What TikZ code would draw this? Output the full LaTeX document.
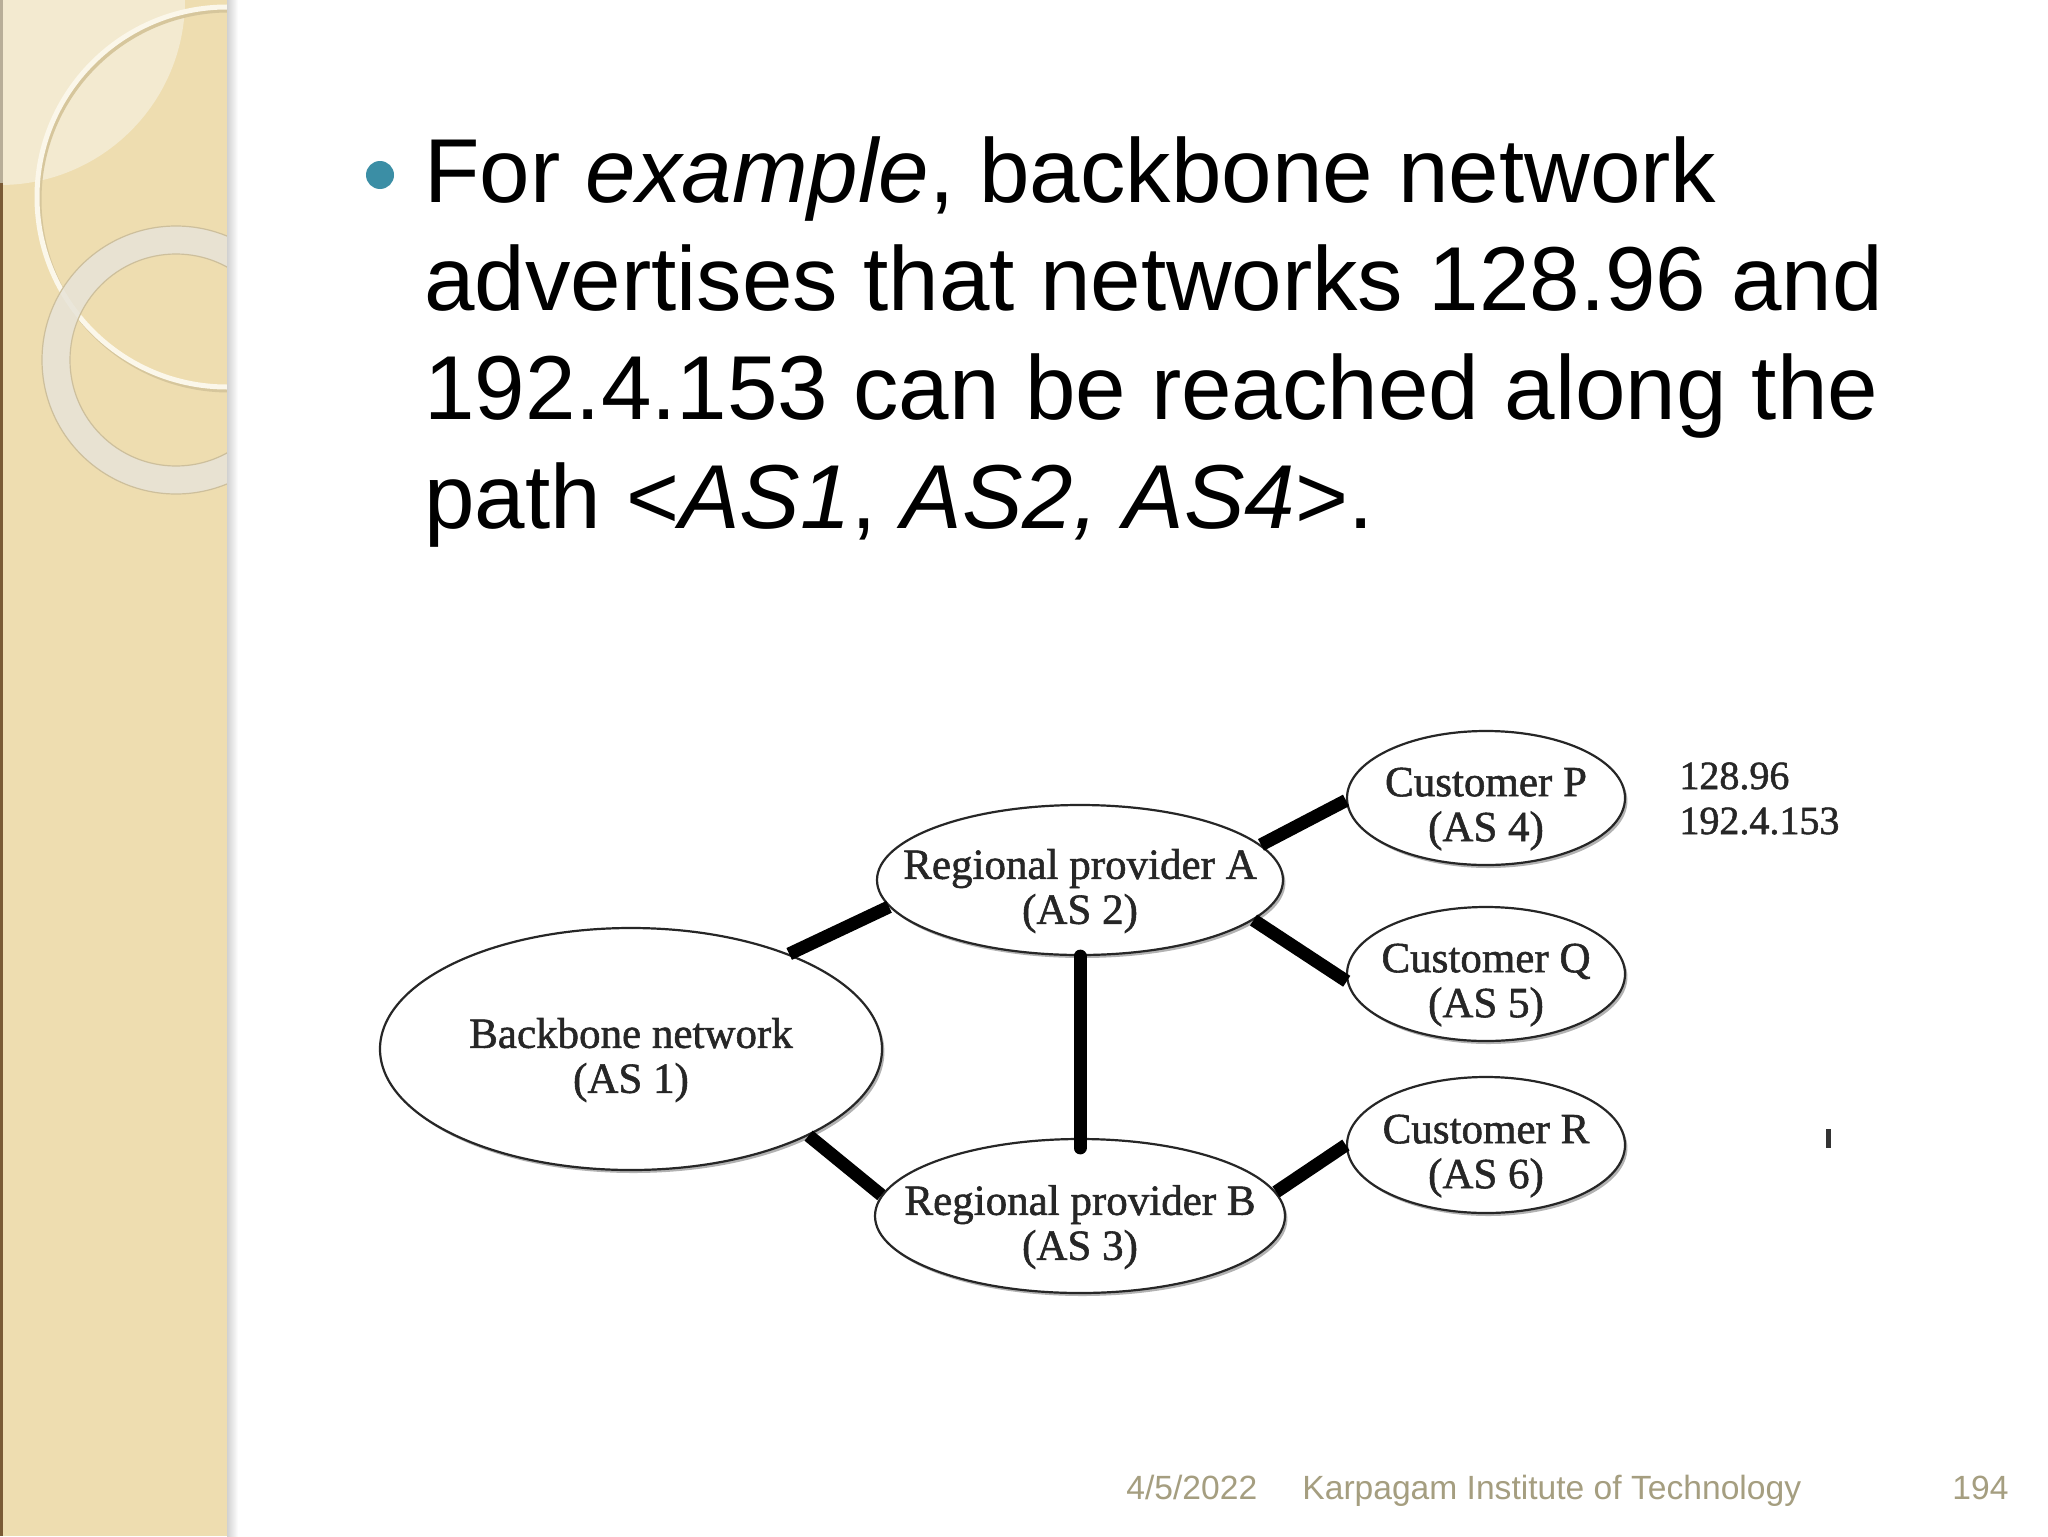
\documentclass[tikz,border=0pt]{standalone}
\usepackage{fontspec}
\setmainfont{Liberation Serif}
\newfontfamily\diagf[FakeBold=1.3]{Liberation Serif}
\newfontfamily\arialf{Liberation Sans}
\usetikzlibrary{shapes.geometric,shadows}
\definecolor{side}{HTML}{EEDDB0}
\definecolor{sidelight}{HTML}{F3EAD0}
\definecolor{brownedge}{HTML}{7A5A35}
\definecolor{greyedge}{HTML}{B8AE98}
\definecolor{ringc}{HTML}{FBF7EA}
\definecolor{ringsh}{HTML}{D6C69C}
\definecolor{ringthick}{HTML}{E8E4D8}
\definecolor{ringedge}{HTML}{CDBF9C}
\definecolor{bulletc}{HTML}{3B8EA5}
\definecolor{footc}{HTML}{A59E80}
\begin{document}
\begin{tikzpicture}[x=0.5pt,y=-0.5pt,
  ell/.style={ellipse, draw=black!85, line width=1.1pt, fill=white, inner sep=0pt,
    drop shadow={shadow xshift=1.2pt, shadow yshift=-1.5pt, opacity=0.3, fill=black}},
  lbl/.style={align=center, inner sep=0pt, text=black!85,
    font=\diagf\fontsize{21.5}{22.5}\selectfont, yshift=-5.5pt},
  addr/.style={anchor=base west, inner sep=0pt, text=black!85,
    font=\diagf\fontsize{20}{22}\selectfont},
  link/.style={line width=6.5pt, black},
  slide/.style={anchor=base west, inner sep=0pt, font=\arialf\fontsize{45.4}{54}\selectfont},
  foot/.style={anchor=base west, inner sep=0pt, text=footc, font=\arialf\fontsize{16.8}{20}\selectfont}]

\useasboundingbox (0,0) rectangle (2048,1536);
\fill[white] (0,0) rectangle (2048,1536);

% sidebar
\begin{scope}
  \clip (0,0) rectangle (227,1536);
  \fill[side] (0,0) rectangle (227,1536);
  \fill[sidelight] (0,0) circle[radius=185];
  \draw[line width=2.5pt, ringsh] (229,200) circle[radius=190];
  \draw[line width=2.5pt, ringc] (227,197) circle[radius=190];
  \draw[line width=14pt, ringthick, opacity=0.85] (176,360) circle[radius=120];
  \draw[line width=0.6pt, ringedge] (176,360) circle[radius=134];
  \draw[line width=0.6pt, ringedge] (176,360) circle[radius=106];
  \fill[brownedge] (0,183) rectangle (3,1536);
  \fill[greyedge] (0,0) rectangle (3,183);
\end{scope}
\shade[left color=black!18, right color=white] (227,0) rectangle (238,1536);

% bullet text
\fill[bulletc] (380,175) circle[radius=14];
\node[slide] (t1) at (424,202) {For \textit{example}, backbone network};
\node[slide] (t2) at (424,310) {advertises that networks 128.96 and};
\node[slide] (t3) at (424,419) {192.4.153 can be reached along the};
\node[slide] (t4) at (424,528) {path <\textit{AS1}, \textit{AS2, AS4}>.};

% ellipses
\node[ell, minimum width=251pt, minimum height=121pt] (bb) at (631,1049) {};
\node[ell, minimum width=203pt, minimum height=75pt] (ra) at (1080,880) {};
\node[ell, minimum width=205pt, minimum height=77pt] (rb) at (1080,1216) {};
\node[ell, minimum width=139pt, minimum height=67pt] (cp) at (1486,798) {};
\node[ell, minimum width=139pt, minimum height=67pt] (cq) at (1486,974) {};
\node[ell, minimum width=139pt, minimum height=68pt] (cr) at (1486,1145) {};

\node[lbl] (bbt) at (bb) {Backbone network\\(AS 1)};
\node[lbl] (rat) at (ra) {Regional provider A\\(AS 2)};
\node[lbl] (rbt) at (rb) {Regional provider B\\(AS 3)};
\node[lbl] (cpt) at (cp) {Customer P\\(AS 4)};
\node[lbl] (cqt) at (cq) {Customer Q\\(AS 5)};
\node[lbl] (crt) at (cr) {Customer R\\(AS 6)};

% connectors
\draw[link] (bb.31) -- (ra.188);
\draw[link] (bb.-26) -- (rb.174);
\draw[link, line cap=round, shorten >=-5pt] (ra.south) -- (rb.north);
\draw[link] (ra.11) -- (cp.181);
\draw[link] (ra.-13) -- (cq.183);
\draw[link] (rb.7) -- (cr.180);

% addresses
\node[addr] (a1) at (1679,789) {128.96};
\node[addr] (a2) at (1679,834) {192.4.153};
\fill[black!80] (1826,1129) rectangle (1831,1148);

% footer
\node[foot] (f1) at (1126,1499) {4/5/2022};
\node[foot] (f2) at (1302,1499) {Karpagam Institute of Technology};
\node[foot] (f3) at (1952,1499) {194};
\end{tikzpicture}
\end{document}
